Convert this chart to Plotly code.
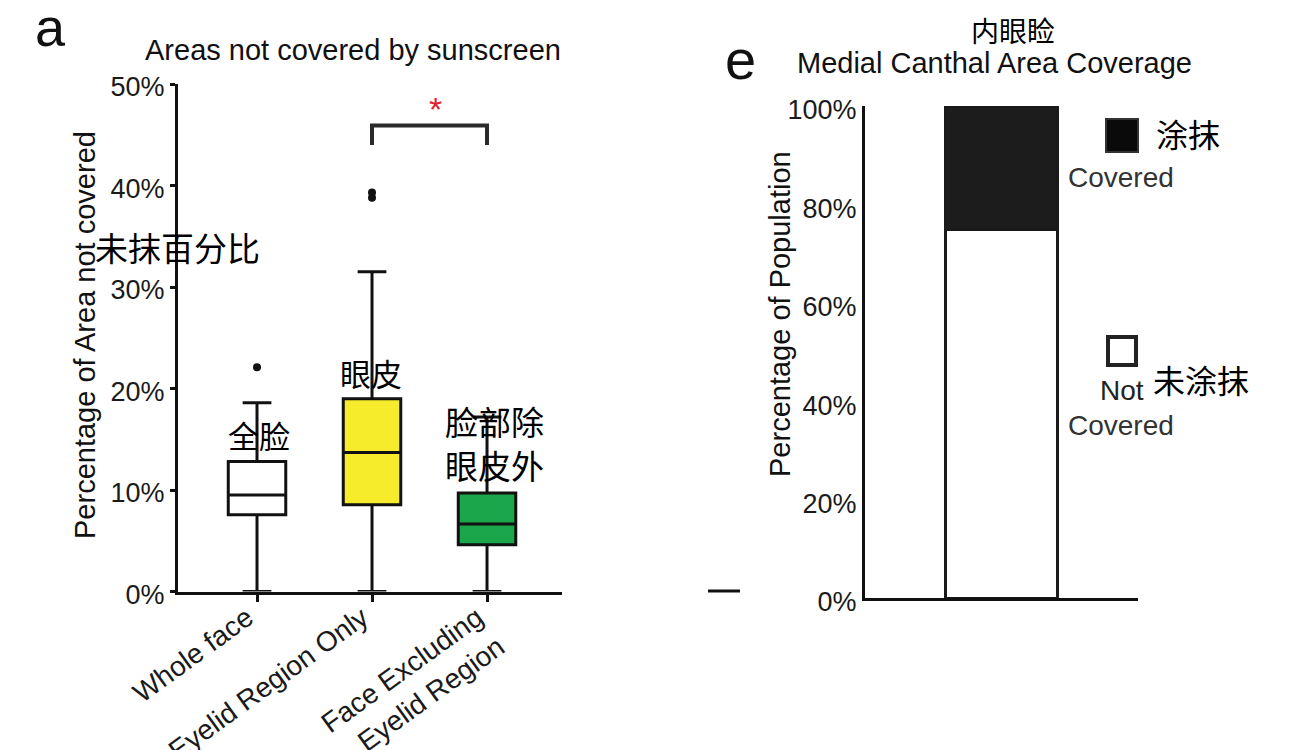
import plotly.graph_objects as go

W, H = 1300, 750

# ---------------- data ----------------
box_categories = ["Whole face", "Eyelid Region Only", "Face Excluding<br>Eyelid Region"]
box_q1 = [7.55, 8.55, 4.6]
box_median = [9.5, 13.7, 6.65]
box_q3 = [12.8, 19.0, 9.7]
box_lower = [0.0, 0.0, 0.0]
box_upper = [18.6, 31.5, 17.2]
box_fill = ["#ffffff", "#f6ec2c", "#1ba64c"]

outlier_x = ["Whole face", "Eyelid Region Only", "Eyelid Region Only"]
outlier_y = [22.1, 39.3, 38.8]

bracket_x = ["Eyelid Region Only", "Eyelid Region Only",
             "Face Excluding<br>Eyelid Region", "Face Excluding<br>Eyelid Region"]
bracket_y = [44.0, 45.9, 45.9, 44.0]

left_ticks = [0, 10, 20, 30, 40, 50]
left_ticktext = ["0%", "10%", "20%", "30%", "40%", "50%"]

cov_labels = ["Not Covered", "Covered"]
cov_values = [75, 25]
cov_colors = ["#ffffff", "#1c1c1c"]
right_ticks = [0, 20, 40, 60, 80, 100]
right_ticktext = ["0%", "20%", "40%", "60%", "80%", "100%"]

FONT = "Liberation Sans, Arial, sans-serif"
CJK = "Noto Sans CJK SC"


def px(x):
    return x / W


def py(y):
    return 1 - y / H


fig = go.Figure()

# ---------------- left panel: boxes ----------------
for i, cat in enumerate(box_categories):
    fig.add_trace(go.Box(
        x=[cat], q1=[box_q1[i]], median=[box_median[i]], q3=[box_q3[i]],
        lowerfence=[box_lower[i]], upperfence=[box_upper[i]],
        fillcolor=box_fill[i], line=dict(color="#111111", width=3),
        width=0.5, whiskerwidth=0.5, boxpoints=False,
        xaxis="x", yaxis="y", showlegend=False, hoverinfo="skip"))

fig.add_trace(go.Scatter(
    x=outlier_x, y=outlier_y, mode="markers",
    marker=dict(color="#111111", size=8),
    xaxis="x", yaxis="y", showlegend=False, hoverinfo="skip"))

fig.add_trace(go.Scatter(
    x=bracket_x, y=bracket_y, mode="lines",
    line=dict(color="#2a2a2a", width=4),
    xaxis="x", yaxis="y", showlegend=False, hoverinfo="skip"))

# ---------------- right panel: stacked bar ----------------
for lab, val, col in zip(cov_labels, cov_values, cov_colors):
    fig.add_trace(go.Bar(
        x=[0], y=[val], name=lab, marker=dict(color=col, line=dict(color="#1a1a1a", width=3)),
        width=0.41, xaxis="x2", yaxis="y2", showlegend=False, hoverinfo="skip"))

axis_common = dict(showgrid=False, zeroline=False, showline=True, linecolor="#111111",
                   linewidth=3, automargin=False,
                   tickfont=dict(family=FONT, size=27, color="#1a1a1a"))

fig.update_layout(
    width=W, height=H, margin=dict(l=0, r=0, t=0, b=0, pad=0, autoexpand=False),
    paper_bgcolor="white", plot_bgcolor="white",
    barmode="stack", boxmode="overlay",
    xaxis=dict(domain=[px(178), px(562)], anchor="y", type="category",
               range=[-0.687, 2.652], ticks="outside", ticklen=7, tickwidth=3,
               tickcolor="#111111", tickangle=-36, ticklabelshift=-10,
               ticklabelstandoff=-11, **axis_common),
    yaxis=dict(domain=[py(591.5), py(84)], anchor="x", range=[0, 50],
               tickmode="array", tickvals=left_ticks, ticktext=left_ticktext,
               ticks="outside", ticklen=5, tickwidth=3, tickcolor="#111111",
               ticklabelshift=3, **axis_common),
    xaxis2=dict(domain=[px(865), px(1138)], anchor="y2", range=[-0.5, 0.5],
                showticklabels=False, ticks="", **axis_common),
    yaxis2=dict(domain=[py(598), py(106)], anchor="x2", range=[0, 100],
                tickmode="array", tickvals=right_ticks, ticktext=right_ticktext,
                ticks="", ticklabelshift=4, **axis_common),
)
fig.update_xaxes(tickfont_size=28, selector=dict(anchor="y"))

ann = []


def add_text(text, x, y, size, family=FONT, color="#111111", angle=0):
    ann.append(dict(text=text, x=px(x), y=py(y), xref="paper", yref="paper",
                    showarrow=False, xanchor="center", yanchor="middle",
                    textangle=angle, font=dict(family=family, size=size, color=color)))


# panel letters and titles
add_text("a", 50, 27, 54)
add_text("Areas not covered by sunscreen", 353, 50, 29)
add_text("Percentage of Area not covered", 85, 335, 29, angle=-90)
add_text("未抹百分比", 177, 247, 33, family=CJK, color="#000000")
add_text("全脸", 259, 435, 31, family=CJK, color="#000000")
add_text("眼皮", 371, 372, 31, family=CJK, color="#000000")
add_text("脸部除", 494, 421, 33, family=CJK, color="#000000")
add_text("眼皮外", 494, 465, 33, family=CJK, color="#000000")

# significance asterisk
ann.append(dict(text="*", x=1.55, y=45.5, xref="x", yref="y", showarrow=False,
                xanchor="center", yanchor="bottom",
                font=dict(family=FONT, size=34, color="#e0202e")))

add_text("内眼睑", 1013, 30, 28, family=CJK, color="#000000")
add_text("e", 740, 60, 56)
add_text("Medial Canthal Area Coverage", 995, 63, 29)
add_text("Percentage of Population", 780, 314, 29, angle=-90)

# legend-like labels
add_text("涂抹", 1188, 133, 32, family=CJK, color="#000000")
add_text("Covered", 1121, 177, 28, color="#333333")
add_text("Not", 1122, 390, 28, color="#222222")
add_text("未涂抹", 1201, 379, 32, family=CJK, color="#000000")
add_text("Covered", 1121, 425, 28, color="#333333")

fig.update_layout(annotations=ann)

shapes = [
    dict(type="rect", xref="paper", yref="paper", x0=px(1106), x1=px(1138), y0=py(152), y1=py(119),
         fillcolor="#0a0a0a", line=dict(color="#333333", width=2)),
    dict(type="rect", xref="paper", yref="paper", x0=px(1108), x1=px(1136), y0=py(365), y1=py(337),
         fillcolor="#ffffff", line=dict(color="#222222", width=4)),
    dict(type="line", xref="paper", yref="paper", x0=px(708), x1=px(740), y0=py(591), y1=py(591),
         line=dict(color="#111111", width=3)),
]
fig.update_layout(shapes=shapes)

fig.write_html("out.html", config={"displayModeBar": False},
               post_script="document.body.style.margin='0';")
